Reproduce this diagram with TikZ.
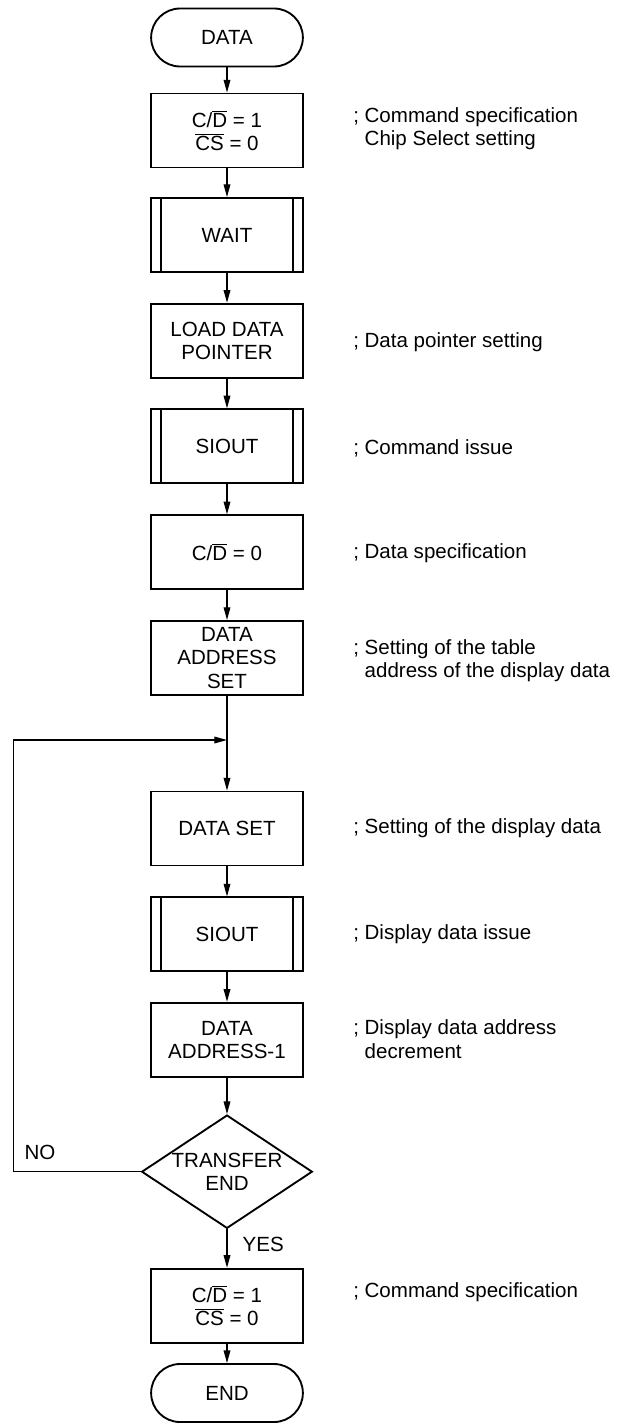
\documentclass[tikz,border=0pt]{standalone}
\usepackage{fontspec}
\setmainfont{Liberation Sans}
\usepackage{tikz}
\usetikzlibrary{arrows.meta}
\usetikzlibrary{shapes,arrows}
\tikzstyle{arrow} = [line width=0.9pt,-{Triangle[length=9.5pt,width=5pt]}]
\tikzstyle{box} = [draw, line width=1.4pt, minimum width=113.8pt, minimum height=55.5pt, inner sep=0pt, align=center]
\tikzstyle{subbox} = [box, path picture={
    \draw[line width=1.4pt] ([xshift=7.5pt]path picture bounding box.north west) -- ([xshift=7.5pt]path picture bounding box.south west);
    \draw[line width=1.4pt] ([xshift=-7.5pt]path picture bounding box.north east) -- ([xshift=-7.5pt]path picture bounding box.south east);}]
\tikzstyle{term} = [draw, line width=1.4pt, rounded corners=21.7pt, minimum width=113.8pt, minimum height=43.5pt, inner sep=0pt]
\tikzstyle{decision} = [draw, diamond, line width=1.4pt, minimum width=128pt, minimum height=85pt, inner sep=-10pt, align=center]
\tikzstyle{note} = [anchor=west, inner sep=0pt, align=left]
\newcommand{\lowact}[1]{$\overline{\mbox{#1}}$}

\begin{document}
\begin{tikzpicture}[x=0.75pt, y=-0.75pt, font=\fontsize{15.4}{17.5}\selectfont]
\useasboundingbox (0,0) rectangle (618,1423);
% main column
\node[term] (start) at (227,37.5) {DATA};
\node[box] (cmd) at (227,130.5) {C/\lowact{D} = 1\\\lowact{CS} = 0};
\node[subbox] (wait) at (227,235) {WAIT};
\node[box] (load) at (227,340.7) {LOAD DATA\\POINTER};
\node[subbox] (siout) at (227,446.3) {SIOUT};
\node[box] (dspec) at (227,552.2) {C/\lowact{D} = 0};
\node[box] (addr) at (227,657.9) {DATA\\ADDRESS\\SET};
\coordinate (join) at (227,740); % loop re-entry
\node[box] (dset) at (227,828.5) {DATA SET};
\node[subbox] (siout2) at (227,934.4) {SIOUT};
\node[box] (dec) at (227,1039.7) {DATA\\ADDRESS-1};
\node[decision] (trans) at (227,1171.7) {TRANSFER\\END};
\node[box] (cmd2) at (227,1305.7) {C/\lowact{D} = 1\\\lowact{CS} = 0};
\node[term] (stop) at (227,1393) {END};

% connectors
\draw[arrow] (start) -- (cmd);
\draw[arrow] (cmd) -- (wait);
\draw[arrow] (wait) -- (load);
\draw[arrow] (load) -- (siout);
\draw[arrow] (siout) -- (dspec);
\draw[arrow] (dspec) -- (addr);
\draw[arrow] (addr) -- (dset);
\draw[arrow] (dset) -- (siout2);
\draw[arrow] (siout2) -- (dec);
\draw[arrow] (dec) -- (trans);
\draw[arrow] (trans) -- (cmd2) node[pos=0.4, right=8pt] (yes) {YES};
\draw[arrow] (cmd2) -- (stop);

% NO branch back to the loop
\coordinate (back) at (13.3,740);
\draw[arrow] (trans.west) -| (back) -- (join);
\node (no) at (40,1152) {NO};

% remarks
\node[note] (n1) at (353,129) {; Command specification\\\hphantom{; }Chip Select setting};
\node[note] (n2) at (353,341.7) {; Data pointer setting};
\node[note] (n3) at (353,448) {; Command issue};
\node[note] (n4) at (353,553) {; Data specification};
\node[note] (n5) at (353,661) {; Setting of the table\\\hphantom{; }address of the display data};
\node[note] (n6) at (353,828.5) {; Setting of the display data};
\node[note] (n7) at (353,934) {; Display data issue};
\node[note] (n8) at (353,1039) {; Display data address\\\hphantom{; }decrement};
\node[note] (n9) at (353,1292) {; Command specification};
\end{tikzpicture}
\end{document}
